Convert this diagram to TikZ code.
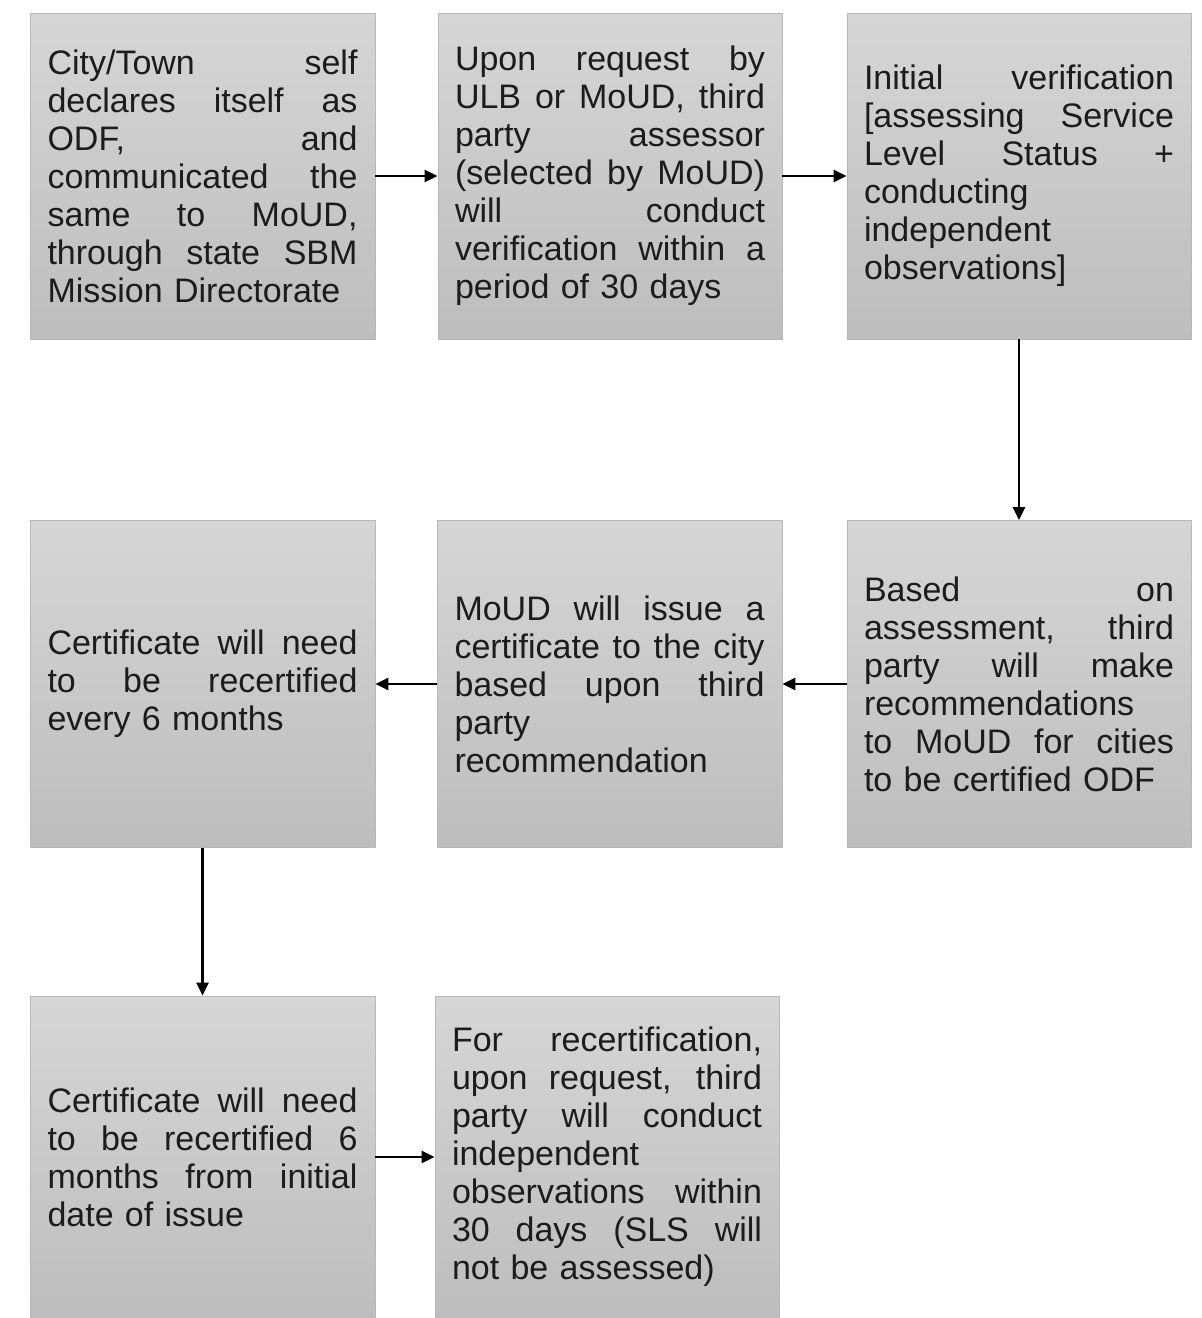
\documentclass[tikz,border=0pt]{standalone}
\usepackage{fontspec}
\setmainfont{Liberation Sans}
\usetikzlibrary{arrows.meta}
\definecolor{boxtop}{HTML}{D6D6D6}
\definecolor{boxbot}{HTML}{BDBDBD}
\definecolor{boxedge}{HTML}{B8B8B8}
\definecolor{txt}{HTML}{1C1C1C}
\newlength\tw
\setlength\tw{310pt}
\newcommand\jl[1]{\leavevmode\hbox to\tw{\spaceskip=0.278em plus 1fil\relax #1}}
\tikzset{
  stepbox/.style={draw=boxedge, line width=0.8pt, top color=boxtop, bottom color=boxbot,
    minimum width=345pt, minimum height=326pt, text width=\tw, inner xsep=0pt,
    align=left, text=txt, font=\fontsize{34}{38}\selectfont},
  flow/.style={line width=2.5pt, -{Triangle[length=13pt,width=12pt]}}
}
\begin{document}
\begin{tikzpicture}[x=1pt,y=-1pt]
\useasboundingbox (0,0) rectangle (1202,1318);
\node[stepbox] (b1) at (202.5,176) {\jl{City/Town self}\\\jl{declares itself as}\\\jl{ODF, and}\\\jl{communicated the}\\\jl{same to MoUD,}\\\jl{through state SBM}\\Mission Directorate};
\node[stepbox, minimum width=344pt] (b2) at (610,176) {\jl{Upon request by}\\\jl{ULB or MoUD, third}\\\jl{party assessor}\\\jl{(selected by MoUD)}\\\jl{will conduct}\\\jl{verification within a}\\period of 30 days};
\node[stepbox, minimum width=344pt] (b3) at (1019,176) {\jl{Initial verification}\\\jl{[assessing Service}\\\jl{Level Status +}\\conducting\\independent\\observations]};
\node[stepbox, minimum width=344pt, minimum height=327pt] (b6) at (1019,684) {\jl{Based on}\\\jl{assessment, third}\\\jl{party will make}\\recommendations\\\jl{to MoUD for cities}\\to be certified ODF};
\node[stepbox, minimum height=327pt] (b5) at (609.5,684) {\jl{MoUD will issue a}\\\jl{certificate to the city}\\\jl{based upon third}\\party\\recommendation};
\node[stepbox, minimum height=327pt] (b4) at (202.5,684) {\jl{Certificate will need}\\\jl{to be recertified}\\every 6 months};
\node[stepbox, minimum height=322pt] (b7) at (202.5,1157) {\jl{Certificate will need}\\\jl{to be recertified 6}\\\jl{months from initial}\\date of issue};
\node[stepbox, minimum width=344pt, minimum height=322pt] (b8) at (607,1157) {\jl{For recertification,}\\\jl{upon request, third}\\\jl{party will conduct}\\independent\\\jl{observations within}\\\jl{30 days (SLS will}\\not be assessed)};
\draw[flow] (b1.east) -- (b2.west);
\draw[flow] (b2.east) -- (b3.west);
\draw[flow] (b3.south) -- (b6.north);
\draw[flow] (b6.west) -- (b5.east);
\draw[flow] (b5.west) -- (b4.east);
\draw[flow] (b4.south) -- (b7.north);
\draw[flow] (b7.east) -- (b8.west |- b7.east);
\end{tikzpicture}
\end{document}
